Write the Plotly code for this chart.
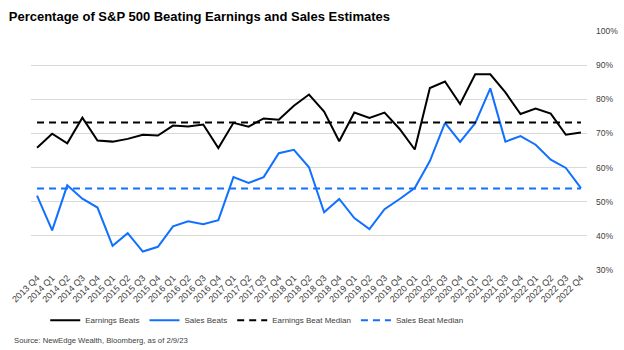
import plotly.graph_objects as go

quarters = ["2013 Q4"] + [f"{y} Q{q}" for y in range(2014, 2023) for q in range(1, 5)]

earnings_beats = [65.8, 69.9, 67.1, 74.6, 67.9, 67.6, 68.4, 69.6, 69.4, 72.3,
                  72.0, 72.6, 65.7, 73.1, 72.0, 74.4, 74.0, 78.1, 81.4, 76.4,
                  67.7, 76.1, 74.5, 76.1, 71.3, 65.3, 83.3, 85.2, 78.6, 87.3,
                  87.3, 82.0, 75.7, 77.3, 75.8, 69.6, 70.3]
sales_beats = [51.8, 41.6, 54.8, 50.9, 48.3, 37.1, 40.8, 35.4, 36.8, 42.8,
               44.3, 43.4, 44.6, 57.2, 55.5, 57.2, 64.2, 65.2, 60.1, 46.9,
               50.8, 45.2, 42.0, 47.8, 50.8, 54.0, 61.9, 73.1, 67.5, 73.0,
               83.2, 67.6, 69.2, 66.7, 62.3, 59.9, 54.0]
earnings_median = 73.2
sales_median = 53.9

y_ticks = [30, 40, 50, 60, 70, 80, 90, 100]
y_ticklabels = [f"{v}%" for v in y_ticks]

BLACK = "#000000"
BLUE = "#1070FF"
FONT = "Arial, Liberation Sans, sans-serif"

fig = go.Figure()
fig.add_trace(go.Scatter(x=quarters, y=earnings_beats, mode="lines", name="Earnings Beats",
                         line=dict(color=BLACK, width=2)))
fig.add_trace(go.Scatter(x=quarters, y=sales_beats, mode="lines", name="Sales Beats",
                         line=dict(color=BLUE, width=2)))
fig.add_trace(go.Scatter(x=quarters, y=[earnings_median] * len(quarters), mode="lines",
                         name="Earnings Beat Median",
                         line=dict(color=BLACK, width=2, dash="7px,5px")))
fig.add_trace(go.Scatter(x=quarters, y=[sales_median] * len(quarters), mode="lines",
                         name="Sales Beat Median",
                         line=dict(color=BLUE, width=2, dash="7px,5px")))

fig.update_layout(
    template="none",
    width=624, height=350,
    margin=dict(l=31, r=37, t=31, b=80, autoexpand=False),
    paper_bgcolor="white", plot_bgcolor="white",
    font=dict(family=FONT, color="#404040", size=9),
    title=dict(text="<b>Percentage of S&P 500 Beating Earnings and Sales Estimates</b>",
               x=0.014, xanchor="left", y=0.965, yanchor="top",
               font=dict(family=FONT, size=13, color="#000000")),
    showlegend=True,
    legend=dict(orientation="h", x=0.406, xanchor="center", y=-0.21, yanchor="middle",
                font=dict(size=8, color="#404040"), itemwidth=30,
                bgcolor="rgba(0,0,0,0)"),
    xaxis=dict(type="category", range=[-0.4, 36.4], tickangle=-45, automargin=False,
               tickfont=dict(size=9, color="#404040"), showgrid=False,
               showline=False, ticks="", zeroline=False),
    yaxis=dict(side="right", range=[30, 100], tickvals=y_ticks, ticktext=y_ticklabels,
               automargin=False,
               showgrid=True, gridcolor="#D9D9D9", gridwidth=1, zeroline=False,
               showline=False, tickfont=dict(size=8.5, color="#404040"), ticks="",
               ticklabelstandoff=8),
    annotations=[dict(text="Source: NewEdge Wealth, Bloomberg, as of 2/9/23",
                      xref="paper", yref="paper", x=-0.034, y=-0.295,
                      xanchor="left", yanchor="middle", showarrow=False,
                      font=dict(size=7.7, color="#404040", family=FONT))],
)

fig.write_html("out.html")
